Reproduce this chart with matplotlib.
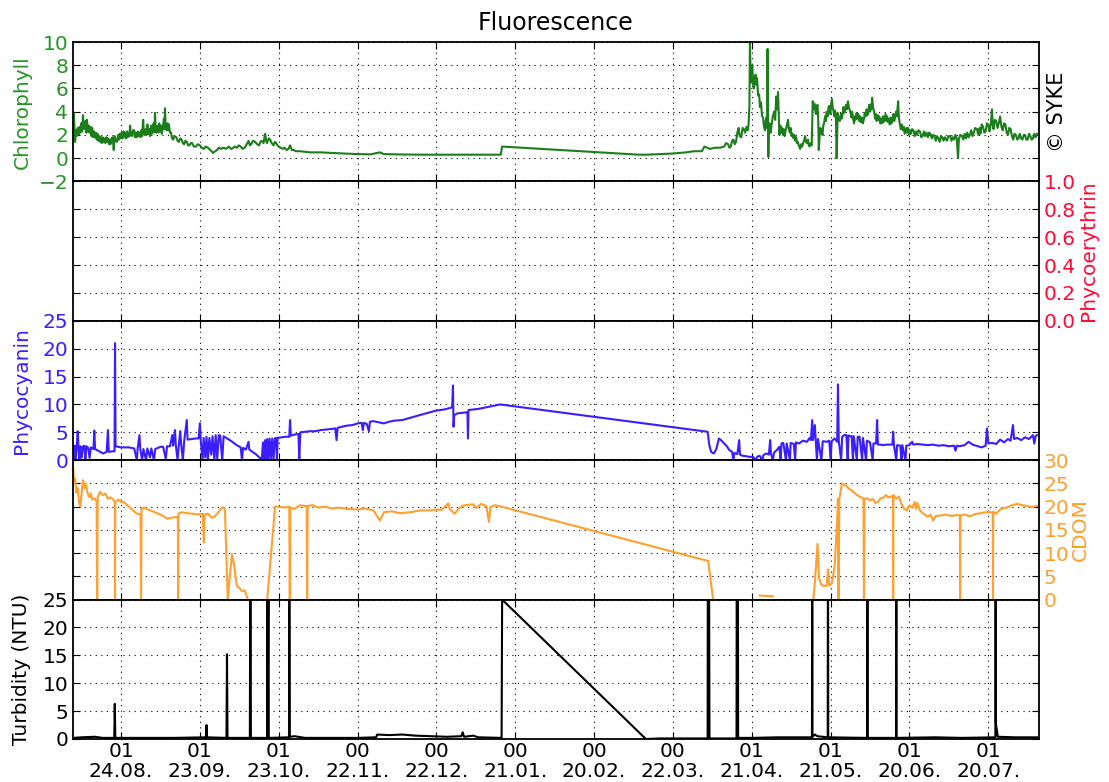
import numpy as np
import matplotlib
matplotlib.use("Agg")
import matplotlib.pyplot as plt

# x = days since 24.08. 01:00, one tick every 30 days
tick_days = [0, 30, 60, 90, 120, 150, 180, 210, 240, 270, 300, 330]
tick_labels = ["01\n24.08.", "01\n23.09.", "01\n23.10.", "00\n22.11.", "00\n22.12.", "00\n21.01.",
               "00\n20.02.", "00\n22.03.", "01\n21.04.", "01\n21.05.", "01\n20.06.", "01\n20.07."]
x_range = (-18.3, 349.3)

# (day, value) pairs
chlorophyll = [
    (-18.2, 2.3), (-18, 3.9), (-17.8, 2.9), (-17.5, 1.4), (-17.2, 2.4), (-16.9, 1.9), (-16.5, 2.6),
    (-16.2, 2.0), (-15.8, 2.7), (-15.5, 2.2), (-15.1, 3.0), (-14.8, 2.3), (-14.5, 3.7), (-14.2, 2.6),
    (-13.8, 2.5), (-13.5, 3.2), (-13.2, 2.2), (-13, 3.3), (-12.6, 2.3), (-12.3, 2.8), (-12, 2.2),
    (-11.6, 2.7), (-11.3, 1.9), (-11, 2.6), (-10.6, 1.8), (-10.3, 2.3), (-10, 1.8), (-9.6, 2.2),
    (-9.3, 1.6), (-9, 2.1), (-8.6, 1.5), (-8.3, 1.9), (-8, 1.4), (-7.6, 1.8), (-7.3, 1.3), (-7, 1.8),
    (-6.6, 1.4), (-6.3, 1.7), (-6, 1.3), (-5.6, 1.8), (-5.3, 1.4), (-5, 1.7), (-4.6, 1.2), (-4.3, 1.6),
    (-4, 1.2), (-3.6, 1.7), (-3.2, 1.8), (-2.8, 0.7), (-2.4, 1.9), (-2, 1.5), (-1.5, 1.4), (-1.1, 2.0),
    (-0.8, 1.6), (-0.5, 2.1), (-0.1, 1.7), (0.2, 2.2), (0.5, 1.7), (0.9, 2.3), (1.2, 1.8), (1.5, 2.2),
    (1.9, 1.7), (2.2, 2.3), (2.5, 1.8), (2.9, 2.2), (3.2, 1.9), (3.4, 2.8), (3.8, 2.0), (4.2, 1.9),
    (4.6, 2.4), (5, 2.4), (5.3, 1.8), (5.7, 2.2), (6, 1.8), (6.4, 2.3), (6.7, 1.9), (7, 2.2), (7.4, 1.8),
    (7.7, 2.4), (8, 1.9), (8.4, 3.3), (8.7, 2.1), (9, 2.0), (9.4, 2.5), (9.7, 2.0), (10, 2.9),
    (10.4, 2.1), (10.7, 2.5), (11, 1.9), (11.4, 2.8), (11.7, 2.1), (12, 2.6), (12.4, 3.0), (12.7, 2.2),
    (12.9, 3.9), (13.2, 2.4), (13.5, 2.2), (13.9, 2.8), (14.2, 2.2), (14.5, 3.0), (14.9, 2.3),
    (15.2, 2.8), (15.5, 2.1), (15.9, 2.7), (16.3, 3.4), (16.5, 2.5), (16.7, 4.3), (17, 2.6), (17.3, 2.4),
    (17.7, 3.0), (18, 2.4), (18.2, 2.9), (18.6, 2.2), (19, 2.2), (19.4, 1.7), (19.8, 1.6), (20.3, 1.9),
    (21, 1.8), (21.5, 1.5), (22, 1.4), (22.5, 1.7), (23, 1.6), (23.5, 1.3), (24, 1.2), (24.5, 1.5),
    (25, 1.4), (25.5, 1.1), (26, 1.1), (26.5, 1.3), (27, 1.3), (27.7, 1.0), (28.5, 1.0), (29.2, 1.2),
    (30, 1.1), (30.7, 0.9), (31.5, 0.8), (32.2, 1.0), (33, 0.9), (34, 0.7), (35, 0.45), (35.8, 0.6),
    (36.5, 0.7), (37.2, 0.9), (38, 0.8), (39, 0.9), (40, 0.8), (41, 1.0), (41.8, 0.8), (42.5, 0.85),
    (43.2, 1.0), (44, 0.9), (44.8, 1.1), (45.5, 1.0), (46.2, 0.8), (47, 0.9), (47.8, 1.2), (48.5, 1.5),
    (49, 1.1), (49.5, 1.2), (50.2, 1.5), (51, 1.4), (51.8, 1.2), (52.5, 1.1), (53, 1.4), (53.5, 1.5),
    (54.2, 1.3), (54.8, 2.1), (55.2, 1.5), (55.5, 1.3), (56.2, 1.7), (56.7, 1.6), (57.3, 1.3),
    (58, 1.1), (58.5, 1.4), (59, 1.3), (59.5, 1.1), (60, 1.0), (60.7, 0.9), (61.5, 0.8), (62.2, 0.9),
    (63, 0.7), (63.7, 0.8), (64.3, 1.1), (65, 0.7), (65.7, 0.7), (66.5, 0.6), (68, 0.6), (72, 0.5),
    (76, 0.5), (80, 0.45), (85, 0.4), (90, 0.35), (95, 0.33), (98.5, 0.5), (100, 0.35), (106, 0.32),
    (115, 0.3), (125, 0.3), (135, 0.3), (144.5, 0.3), (145, 1.0), (197, 0.3), (200, 0.3), (205, 0.35),
    (210, 0.4), (215, 0.5), (218, 0.6), (221, 0.6), (222, 1.0), (224, 0.8), (226, 0.9), (228, 0.9),
    (229.5, 1.0), (230.2, 1.3), (231, 1.2), (231.5, 0.9), (232, 1.0), (232.5, 1.5), (233, 1.6),
    (233.5, 1.2), (234, 1.4), (234.5, 2.2), (235, 2.6), (235.4, 1.9), (236, 1.8), (236.5, 2.6),
    (237, 2.5), (237.5, 2.2), (238, 2.7), (238.5, 2.4), (238.8, 3.0), (239.1, 4.5), (239.3, 10),
    (239.5, 7.8), (239.7, 6.5), (240, 7.5), (240.2, 8.0), (240.5, 6.4), (240.8, 6.0), (241.1, 7.0),
    (241.5, 7.2), (241.8, 6.3), (242, 6.9), (242.4, 5.4), (242.8, 5.5), (243.1, 4.4), (243.5, 4.8),
    (243.9, 3.6), (244.3, 3.5), (244.6, 2.8), (245, 2.4), (245.3, 3.2), (245.6, 3.5), (245.8, 2.6),
    (246, 9.4), (246.2, 3.0), (246.3, 0.1), (246.5, 2.8), (246.8, 3.0), (247.2, 2.2), (247.5, 2.8),
    (248, 3.6), (248.5, 4.0), (248.9, 3.3), (249.3, 5.3), (249.6, 4.2), (250, 5.7), (250.3, 3.4),
    (250.5, 2.0), (250.9, 2.8), (251.2, 2.2), (251.5, 2.6), (251.9, 2.0), (252.2, 2.5), (252.5, 1.9),
    (252.9, 2.4), (253.3, 2.8), (253.8, 3.3), (254.1, 2.5), (254.5, 2.2), (254.8, 2.6), (255.2, 1.9),
    (255.5, 2.1), (255.9, 1.7), (256.2, 2.0), (256.5, 1.5), (256.9, 1.8), (257.2, 1.3), (257.5, 1.4),
    (257.9, 1.1), (258.4, 0.8), (258.8, 1.2), (259.2, 1.0), (259.5, 1.3), (259.9, 1.5), (260.3, 1.9),
    (260.6, 1.4), (261, 1.3), (261.4, 1.6), (261.7, 1.1), (262, 1.0), (262.4, 1.3), (262.8, 1.1),
    (263.2, 4.9), (263.5, 4.2), (263.8, 4.7), (264, 4.5), (264.4, 3.8), (264.7, 4.4), (265, 4.6),
    (265.3, 3.2), (265.5, 0.7), (265.8, 1.8), (266.1, 2.6), (266.5, 2.4), (266.9, 2.0), (267.2, 2.8),
    (267.5, 3.0), (267.9, 3.6), (268.2, 3.2), (268.5, 4.0), (268.9, 3.6), (269.2, 4.4), (269.5, 4.5),
    (269.9, 3.8), (270.2, 4.6), (270.5, 5.1), (270.8, 4.3), (271, 4.2), (271.4, 3.6), (271.7, 4.1),
    (272, 3.6), (272.3, 0.0), (272.7, 3.9), (273.1, 3.3), (273.5, 3.2), (273.9, 3.8), (274.2, 3.4),
    (274.5, 3.7), (274.9, 4.4), (275.2, 3.9), (275.5, 4.1), (275.9, 4.6), (276.2, 4.2), (276.6, 4.9),
    (277, 4.3), (277.5, 4.0), (277.9, 3.5), (278.2, 4.0), (278.5, 3.5), (278.9, 3.0), (279.2, 3.6),
    (279.5, 3.3), (279.9, 3.9), (280.2, 3.4), (280.5, 3.8), (280.9, 3.2), (281.2, 3.6), (281.5, 3.1),
    (281.9, 3.5), (282.3, 3.0), (282.7, 3.4), (283, 3.9), (283.3, 3.6), (283.7, 4.2), (284, 3.7),
    (284.3, 4.1), (284.7, 4.6), (285, 4.0), (285.2, 4.6), (285.5, 4.2), (285.8, 5.2), (286.2, 4.3),
    (286.6, 4.0), (286.9, 3.4), (287.2, 3.8), (287.5, 3.2), (287.9, 3.7), (288.2, 3.3), (288.5, 3.6),
    (288.9, 3.0), (289.2, 3.4), (289.5, 3.0), (289.9, 3.6), (290.2, 3.1), (290.5, 3.4), (290.9, 3.8),
    (291.2, 3.2), (291.5, 3.6), (291.9, 3.1), (292.2, 3.4), (292.5, 2.9), (292.9, 3.5), (293.2, 3.0),
    (293.5, 3.3), (293.9, 3.8), (294.2, 3.2), (294.5, 3.5), (294.9, 4.0), (295.2, 3.6), (295.7, 4.9),
    (296, 3.5), (296.3, 3.0), (296.7, 2.5), (297, 2.9), (297.5, 2.4), (297.9, 2.7), (298.2, 2.1),
    (298.5, 2.2), (298.9, 2.6), (299.2, 2.2), (299.5, 2.6), (299.9, 2.0), (300.2, 2.4), (300.5, 2.1),
    (301, 2.5), (301.5, 2.4), (302, 1.9), (302.5, 2.3), (302.9, 2.0), (303.4, 2.4), (304, 2.3),
    (304.5, 1.8), (305, 1.9), (305.5, 2.3), (306, 1.9), (306.5, 2.2), (307, 1.8), (307.5, 2.2),
    (308, 2.1), (308.5, 1.7), (309, 2.0), (309.5, 1.9), (310, 1.5), (310.5, 1.9), (311, 1.7),
    (311.5, 1.4), (312, 1.9), (312.5, 1.8), (313, 1.5), (313.5, 1.8), (314.3, 1.5), (314.8, 1.9),
    (315.5, 1.9), (316, 1.5), (316.5, 1.8), (317, 1.6), (317.5, 2.0), (318, 1.7), (318.5, 0.0),
    (318.8, 1.6), (319.3, 2.0), (320, 1.9), (320.5, 1.6), (321, 2.1), (321.5, 1.7), (322, 2.2),
    (322.5, 1.8), (323, 2.0), (323.5, 2.4), (324, 1.9), (324.5, 2.2), (325, 2.6), (325.7, 2.5),
    (326.2, 2.0), (326.7, 2.6), (327, 2.1), (327.5, 2.9), (328, 2.7), (328.5, 2.2), (329, 2.3),
    (329.5, 3.0), (330, 2.9), (330.5, 2.3), (331, 3.0), (331.4, 4.2), (331.7, 2.9), (332, 2.5),
    (332.5, 3.3), (333, 3.2), (333.5, 2.6), (334, 3.0), (334.5, 3.6), (335, 2.7), (335.5, 2.4),
    (336, 3.0), (336.5, 2.9), (337, 2.2), (337.5, 2.0), (338, 2.6), (338.5, 2.5), (339, 1.9),
    (339.5, 1.6), (340, 2.1), (340.5, 2.0), (341, 1.6), (341.5, 1.7), (342, 2.1), (342.5, 1.7),
    (343, 1.6), (343.5, 2.0), (344, 2.0), (344.5, 1.6), (345, 1.6), (345.5, 2.1), (346, 1.9),
    (346.5, 1.6), (347, 1.7), (347.5, 2.1), (348, 1.8), (348.5, 2.1),
]

phycocyanin = [
    (-18.2, 2.4), (-17.9, 0), (-17.6, 2.6), (-17.2, 0.3), (-16.9, 2.2), (-16.5, 5.2), (-16.2, 2.3),
    (-15.8, 0), (-15.4, 2.5), (-15, 0.5), (-14.6, 2.4), (-14, 2.6), (-13.6, 0), (-13.2, 2.5),
    (-12.5, 2.2), (-12, 0.4), (-11.5, 2.3), (-10.5, 2.0), (-10.2, 5.3), (-9.9, 2.0), (-8, 1.5),
    (-6.8, 1.2), (-5.5, 1.5), (-5, 5.4), (-4.7, 1.5), (-3, 1.6), (-2.5, 1.6), (-2.3, 21), (-2.1, 2.5),
    (0, 2.3), (3, 2.3), (5, 2.1), (6, 0), (6.3, 2.1), (7, 4.5), (7.3, 2.0), (8, 0), (8.5, 2.0),
    (9.5, 0), (10, 2.1), (11, 0.5), (11.5, 2.1), (12.5, 0), (13, 2.0), (14, 2.2), (15, 2.4), (16, 2.4),
    (17, 0.3), (17.5, 2.5), (18.6, 2.5), (19.5, 4.5), (19.8, 2.6), (20.5, 5.4), (20.8, 2.8), (21.5, 0),
    (22, 2.8), (22.5, 5.2), (22.8, 3.2), (23.5, 0), (24, 3.4), (25, 7.2), (25.3, 3.7), (27, 3.8),
    (28.5, 3.9), (29.5, 3.9), (30, 6.6), (30.3, 3.6), (31, 0), (31.4, 4.0), (32, 0.5), (32.5, 4.2),
    (33, 0), (33.6, 4.0), (34.3, 1.0), (34.8, 4.3), (35.5, 0), (36, 4.5), (36.6, 0.3), (37.2, 4.5),
    (37.7, 4.4), (38.5, 0), (39, 4.3), (40, 4.0), (42, 3.4), (44, 2.7), (45.5, 2.3), (46, 0),
    (46.4, 2.2), (47.5, 1.9), (48.5, 3.3), (48.8, 1.9), (50, 1.5), (51.5, 1.0), (53, 0.3), (53.5, 0),
    (54, 3.2), (54.4, 0), (54.8, 3.6), (55.2, 0), (55.6, 3.8), (56, 0), (56.5, 3.9), (57, 0.3),
    (57.5, 3.9), (58, 0), (58.5, 3.9), (59, 4.0), (59.3, 0), (59.6, 4.0), (61, 4.1), (62.5, 4.2),
    (64, 4.2), (64.3, 7.2), (64.6, 4.4), (66, 4.6), (67.5, 4.7), (67.8, 0), (68.2, 5.0), (70, 5.1),
    (72, 5.2), (74, 5.2), (76, 5.4), (78, 5.5), (80, 5.6), (81.5, 5.7), (82, 3.6), (82.4, 5.8),
    (84, 6.0), (86, 6.2), (88, 6.3), (90, 6.6), (91.5, 6.7), (92, 5.4), (92.4, 6.7), (93.5, 6.5),
    (94.3, 5.2), (94.7, 6.9), (96, 7.0), (98, 6.8), (100, 6.6), (102, 6.9), (104, 7.1), (107, 7.2),
    (110, 7.6), (113, 8.0), (116, 8.4), (120, 8.9), (123, 9.1), (125.5, 9.4), (126, 9.6),
    (126.3, 13.4), (126.5, 6.0), (126.8, 8.1), (128, 8.4), (130, 8.5), (131.8, 8.6), (132, 3.9),
    (132.2, 9.0), (134, 9.1), (136, 9.2), (138, 9.4), (140, 9.6), (142, 9.8), (144.2, 10.0),
    (223.2, 5.1), (223.8, 2.8), (224.5, 1.5), (225.5, 1.2), (226.5, 2.0), (227.5, 3.9), (228.5, 3.5),
    (229.5, 3.0), (230.5, 2.5), (231.5, 1.8), (232.5, 1.5), (233, 0), (233.4, 1.3), (234.5, 1.1),
    (235.2, 3.6), (235.5, 1.0), (236.5, 0.8), (238, 0.7), (239, 0.6), (240.5, 0.6), (241.5, 0),
    (242, 0.6), (243, 0.8), (244, 0), (244.4, 0.9), (245.5, 1.2), (246.5, 1.0), (247, 3.6),
    (247.3, 1.2), (248, 0), (248.5, 1.4), (249.5, 1.8), (250.5, 2.4), (251, 0), (251.3, 3.0),
    (252, 3.1), (253, 0), (253.3, 3.0), (254.5, 0), (254.8, 3.1), (256, 2.9), (256.5, 0), (256.8, 3.2),
    (258, 3.0), (259.5, 3.5), (261, 3.3), (262, 4.0), (262.5, 3.6), (263, 7.2), (263.3, 3.6),
    (264, 6.3), (264.3, 3.9), (264.8, 0), (265.2, 3.8), (266.5, 0), (267, 3.4), (268.6, 3.3),
    (269.5, 3.5), (270, 0), (270.4, 3.4), (271.5, 3.9), (272.5, 3.3), (272.8, 13.6), (273.1, 3.5),
    (274, 0), (274.4, 4.2), (275.2, 4.5), (276, 4.5), (276.5, 0), (276.8, 4.4), (278, 4.3), (278.5, 0),
    (278.8, 4.3), (280, 0), (280.3, 4.2), (281, 4.2), (282, 0), (282.3, 4.0), (283.5, 0), (283.8, 3.5),
    (285, 3.2), (286, 0), (286.3, 3.0), (287.3, 3.0), (287.7, 7.2), (288, 2.8), (289, 2.8), (290, 2.7),
    (291.5, 2.8), (293.5, 2.8), (293.8, 5.1), (294.1, 2.7), (295, 0), (295.3, 2.7), (296.5, 2.6),
    (297, 0), (297.3, 2.7), (298.5, 0), (298.8, 2.6), (300, 2.7), (301, 3.3), (301.5, 2.8), (303, 2.9),
    (305, 2.8), (307, 2.7), (309, 2.8), (311, 2.6), (313, 2.7), (315, 2.5), (317, 2.6), (317.5, 1.7),
    (318, 2.6), (319, 2.5), (321, 2.7), (322.5, 3.3), (324, 2.8), (326, 2.5), (327.5, 2.3), (329, 2.6),
    (329.5, 5.7), (330, 3.0), (331.5, 3.1), (333, 2.9), (334.5, 3.7), (336, 3.2), (337.5, 3.8),
    (338.5, 3.5), (339.4, 6.3), (339.8, 3.8), (341, 4.0), (342.5, 3.6), (344, 4.1), (345.5, 3.8),
    (347, 4.5), (347.5, 3.0), (348, 4.3), (348.5, 4.5),
]

# None = no data
cdom = [
    (-18.2, 28.3), (-17.9, 25), (-17.5, 26), (-17, 23), (-16.5, 24), (-16, 21), (-15.5, 20),
    (-15, 23), (-14.5, 25.7), (-14, 24), (-13.5, 25), (-13, 23.5), (-12.5, 22.5), (-12, 22),
    (-11.5, 22.8), (-11, 21.5), (-10, 21.8), (-9.3, 21), (-9.1, 0), (-8.9, 22), (-8, 23.2),
    (-7, 22.5), (-6, 22.8), (-5, 21.7), (-4, 22), (-3, 21.5), (-2.4, 21), (-2.3, 0), (-2.2, 21),
    (-1, 21.5), (0, 21), (1, 21), (2, 20.5), (3, 20), (4, 19.5), (5, 19), (6, 18.5), (7.4, 18.3),
    (7.6, 0), (7.8, 19.6), (9, 19.8), (10, 19.4), (12, 19), (14, 18.5), (16, 18), (17.5, 17.4),
    (19, 17.6), (21, 17.8), (21.6, 17.5), (21.7, 0), (21.8, 18.5), (23, 18.8), (25, 18.6), (27, 18.5),
    (29, 18.3), (31, 18.5), (31.5, 12.3), (31.8, 18.3), (33, 18.5), (34.5, 17.6), (35.5, 17.8),
    (37, 18.8), (38.5, 19.9), (39.5, 19.5), (40.6, 0), (41.2, 4), (42.2, 9.8), (43, 7.5), (44, 3),
    (45, 2.5), (46, 1.8), (47, 2.0), (48.3, 0), (None, None), (55.6, 0), (58.6, 20), (60, 20),
    (62, 19.8), (64, 20), (64.2, 0), (64.4, 19.8), (66, 19.5), (68, 20.3), (70.6, 20.1), (70.8, 0),
    (71, 20.2), (73, 20.3), (75, 19.8), (78, 20), (80, 19.6), (83, 19.8), (86, 19.5), (90, 19.4),
    (93, 19.6), (96, 19.2), (98.5, 17), (100, 18.8), (103, 19), (106, 18.6), (110, 18.8), (114, 19.2),
    (118, 19.2), (120, 19.4), (122, 19.3), (124.5, 20.7), (125, 19.5), (127, 18.5), (128.5, 19.6),
    (130, 20.2), (132, 20.4), (134, 20.5), (135, 19.7), (137, 20.6), (139, 20.1), (140, 16.7),
    (140.5, 19.9), (142, 20.3), (144, 20.1), (145.4, 19.9), (223.4, 8.3), (224.5, 3.6), (225.3, 0),
    (None, None), (243, 0.9), (245, 0.8), (248, 0.7), (None, None), (263.4, 0), (264, 3.6),
    (265, 12), (265.6, 4.5), (266.5, 3.2), (267.5, 2.9), (268.5, 3.0), (269, 6.5), (269.5, 3.0),
    (270.5, 3.5), (271.5, 7), (272.5, 17), (272.8, 21.7), (273, 0), (273.3, 21.5), (274.3, 25),
    (275, 24.7), (276, 24.5), (277, 23.8), (278, 23.5), (279, 23), (280, 22.5), (281, 22.2),
    (282.5, 21.7), (282.7, 0), (282.9, 21.7), (284, 21.8), (285, 21.3), (286, 21.7), (287, 20.8),
    (288, 21.0), (289, 21.8), (290, 21.9), (291, 22.5), (292, 22.0), (293.7, 22.3), (293.8, 0),
    (293.9, 22.5), (295, 21.7), (296, 22.2), (297, 20.5), (298, 19.5), (299, 19.2), (300, 20.3),
    (301, 19.8), (302, 21), (302.5, 19.5), (303, 20.8), (304, 19.2), (305, 18.6), (306, 18.2),
    (307, 17.8), (308, 18.3), (309, 17.0), (310, 18.0), (312, 18.1), (314, 18.3), (316, 18.0),
    (318, 18.2), (319.2, 18.1), (319.3, 0), (319.4, 18.1), (321, 18.3), (323, 17.9), (325, 18.4),
    (327, 18.6), (329, 18.8), (331.7, 18.8), (331.8, 0), (331.9, 18.8), (333, 18.5), (335, 19.6),
    (337, 19.8), (339, 20.3), (341, 20.6), (343, 20.3), (345, 20.1), (347, 19.9), (348.5, 20.2),
]

turbidity = [
    (-18.2, 0.2), (-15, 0.3), (-10, 0.4), (-7, 0.2), (-2.6, 0.2), (-2.4, 6.3), (-2.2, 0.2), (10, 0.2),
    (20, 0.2), (32.3, 0.3), (32.5, 2.5), (32.7, 0.3), (40.1, 0.2), (40.3, 15.2), (40.5, 0.2),
    (49, 0.2), (49.2, 40), (49.4, 0.2), (55.6, 0.2), (55.7, 40), (55.8, 0.2), (56.1, 40), (56.2, 0.2),
    (63.9, 0.3), (64, 40), (64.2, 0.4), (66, 0.5), (70, 0.2), (90, 0.2), (97, 0.3), (97.5, 0.8),
    (102, 0.7), (107, 0.8), (112, 0.6), (118, 0.5), (124, 0.4), (129.5, 0.5), (130, 1.2), (130.5, 0.4),
    (134, 0.6), (136, 0.3), (144.8, 0.2), (145, 25), (199.7, 0), (205, 0.1), (215, 0.1), (223.2, 0.1),
    (223.3, 40), (223.5, 0.1), (223.7, 40), (223.9, 0.1), (234.2, 0.1), (234.3, 40), (234.5, 0.1),
    (234.7, 40), (234.8, 0.2), (240, 0.2), (250, 0.3), (262.9, 0.3), (263, 40), (263.1, 0.4),
    (264, 0.8), (265, 0.5), (268.9, 0.3), (269, 40), (269.1, 0.3), (283.9, 0.2), (284, 40),
    (284.1, 0.2), (294.9, 0.2), (295, 40), (295.1, 0.2), (310, 0.3), (320, 0.2), (332.7, 0.3),
    (332.8, 40), (332.9, 2.7), (333.3, 1.5), (333.6, 0.4), (340, 0.3), (348.5, 0.3),
]


def xy(pairs):
    arr = np.array([(np.nan, np.nan) if p[0] is None else p for p in pairs], dtype=float)
    return arr[:, 0], arr[:, 1]


green_line = "#1c7d1c"
green_text = "#279427"
red = "#ff0a36"
blue = "#3a1eff"
orange = "#ffa030"
FS = 14.5

fig = plt.figure(figsize=(11.09, 7.82), dpi=100)
left, right, top, bottom = 73 / 1109, 1039 / 1109, 1 - 42 / 782, 1 - 739 / 782
h = (top - bottom) / 5
axes = []
for i in range(5):
    ax = fig.add_axes([left, top - (i + 1) * h, right - left, h],
                      sharex=axes[0] if axes else None)
    axes.append(ax)

panels = [
    ("Chlorophyll", chlorophyll, green_line, green_text, (-2, 10), np.arange(-2, 11, 2), "left", -0.043),
    ("Phycoerythrin", None, red, red, (0, 1), np.arange(0, 1.01, 0.2), "right", 1.041),
    ("Phycocyanin", phycocyanin, blue, blue, (0, 25), np.arange(0, 26, 5), "left", -0.043),
    ("CDOM", cdom, orange, orange, (0, 30), np.arange(0, 31, 5), "right", 1.033),
    ("Turbidity (NTU)", turbidity, "black", "black", (0, 25), np.arange(0, 26, 5), "left", -0.043),
]

for ax, (name, data, lc, tc, ylim, yt, side, lx) in zip(axes, panels):
    if data is not None:
        x, y = xy(data)
        ax.plot(x, y, color=lc, lw=1.5)
    ax.set_ylim(*ylim)
    ax.set_yticks(yt)
    if name == "Phycoerythrin":
        ax.set_yticklabels(["%.1f" % v for v in yt])
    ax.grid(True, linestyle=(0, (1, 4)), color="k", lw=0.8)
    ax.tick_params(direction="in", length=5, top=True, bottom=True, left=True, right=True,
                   labelsize=FS)
    ax.tick_params(axis="y", labelcolor=tc, labelleft=(side == "left"), labelright=(side == "right"))
    ax.yaxis.set_label_position(side)
    ax.set_ylabel(name, color=tc, fontsize=FS)
    ax.yaxis.set_label_coords(lx, 0.5)
    for s in ax.spines.values():
        s.set_linewidth(1.3)
    if ax is not axes[-1]:
        ax.tick_params(axis="x", labelbottom=False)

axes[0].set_xlim(*x_range)
axes[-1].set_xticks(tick_days)
axes[-1].set_xticklabels(tick_labels, fontsize=FS, linespacing=1.05)
axes[-1].tick_params(axis="x", pad=2)
axes[0].set_title("Fluorescence", fontsize=17, pad=9)
fig.text(1057 / 1109, 1 - 112 / 782, "\u00a9 SYKE", rotation=90, fontsize=15, ha="center", va="center")

plt.savefig("out.png", dpi=100)
